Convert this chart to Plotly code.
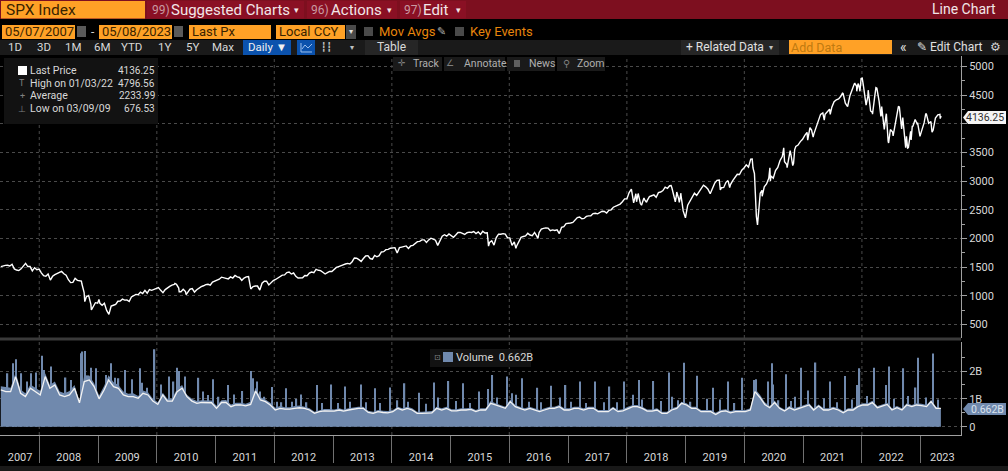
import pandas as pd
import plotly.graph_objects as go
from plotly.subplots import make_subplots

W = 1008
H = 471

# ---------SPX last price, one value every two weeks from 05/07/2007---------
price_values = [
    1510, 1525, 1530, 1533, 1520, 1550, 1470, 1450, 1440, 1470, 1520, 1565, 1510, 1510, 1435, 1490, 1455, 1468, 1400, 1350, 1340, 1380, 1275, 1340, 1370, 1385,
    1405, 1425, 1385, 1360, 1280, 1230, 1235, 1305, 1270, 1265, 1210, 1055, 985, 1005, 850, 816, 880, 870, 870, 835, 870, 745, 677, 820, 835, 850,
    905, 910, 942, 925, 927, 900, 980, 1005, 1025, 1020, 1065, 1040, 1095, 1045, 1110, 1095, 1115, 1127, 1145, 1095, 1055, 1108, 1140, 1165, 1187, 1197,
    1200, 1135, 1070, 1115, 1075, 1060, 1115, 1125, 1065, 1105, 1140, 1160, 1175, 1195, 1200, 1185, 1240, 1255, 1270, 1290, 1325, 1320, 1305, 1295, 1330, 1310,
    1355, 1330, 1320, 1270, 1310, 1330, 1335, 1120, 1160, 1170, 1170, 1100, 1220, 1255, 1255, 1190, 1235, 1265, 1285, 1315, 1345, 1360, 1365, 1405, 1415, 1380,
    1398, 1340, 1310, 1310, 1315, 1355, 1350, 1395, 1415, 1405, 1460, 1445, 1440, 1410, 1380, 1405, 1425, 1425, 1460, 1495, 1510, 1520, 1540, 1555, 1565, 1555,
    1595, 1660, 1655, 1630, 1600, 1650, 1695, 1700, 1650, 1640, 1705, 1680, 1700, 1765, 1770, 1805, 1810, 1830, 1830, 1840, 1745, 1840, 1850, 1860, 1870, 1825,
    1870, 1880, 1920, 1945, 1950, 1975, 1975, 1930, 1975, 2005, 1990, 1970, 1880, 1965, 2040, 2065, 2040, 2080, 2050, 2020, 2060, 2105, 2105, 2080, 2070, 2100,
    2110, 2105, 2120, 2085, 2115, 2070, 2125, 2095, 2100, 1930, 1960, 1885, 2015, 2075, 2075, 2085, 2075, 2010, 2010, 1880, 1940, 1865, 1950, 2020, 2035, 2045,
    2090, 2060, 2050, 2105, 2040, 2100, 2165, 2175, 2185, 2180, 2135, 2150, 2140, 2150, 2085, 2195, 2205, 2260, 2260, 2270, 2280, 2330, 2365, 2375, 2345, 2350,
    2385, 2395, 2395, 2435, 2440, 2430, 2460, 2475, 2470, 2445, 2490, 2500, 2545, 2565, 2590, 2600, 2640, 2690, 2690, 2800, 2860, 2620, 2780, 2780, 2610, 2640,
    2670, 2660, 2730, 2745, 2760, 2720, 2800, 2810, 2835, 2895, 2875, 2920, 2880, 2740, 2750, 2690, 2760, 2480, 2360, 2580, 2650, 2720, 2790, 2750, 2815, 2890,
    2930, 2900, 2860, 2780, 2890, 2965, 3015, 3020, 2885, 2890, 2980, 3000, 2940, 3010, 3075, 3120, 3115, 3190, 3230, 3285, 3245, 3385, 3230, 2750, 2237, 2660,
    2840, 2900, 2950, 3050, 3090, 3050, 3185, 3240, 3360, 3430, 3340, 3290, 3410, 3430, 3310, 3605, 3630, 3690, 3730, 3800, 3850, 3915, 3890, 3820, 3940, 4080,
    4165, 4190, 4165, 4205, 4255, 4290, 4385, 4420, 4435, 4480, 4530, 4360, 4300, 4485, 4615, 4700, 4655, 4670, 4790, 4670, 4410, 4480, 4300, 4200, 4460, 4620,
    4390, 4155, 4010, 4130, 3700, 3900, 3855, 3965, 4210, 4290, 3910, 3850, 3680, 3585, 3870, 3960, 4075, 3990, 3800, 3895, 4020, 4170, 4010, 4040, 3890, 4100,
    4150, 4165, 4136.25,
]
price_last_date = "2023-05-08"

# sharp turns between the two-week values
price_extra_dates = [
    "2008-09-19", "2008-10-10", "2008-11-20", "2009-01-06", "2010-04-23", "2010-05-20", "2010-07-02",
    "2011-08-08", "2011-10-03", "2015-08-25", "2016-02-11", "2016-06-27", "2016-11-04",
    "2018-03-02", "2018-03-12", "2018-04-02", "2018-04-17", "2018-05-03", "2018-10-03", "2018-10-29", "2018-11-07", "2018-11-23", "2018-12-03",
    "2019-07-26", "2019-08-05", "2019-09-19", "2019-10-02",
    "2020-02-19", "2020-03-04", "2020-03-12", "2020-03-13", "2020-03-16", "2020-04-01", "2020-04-09", "2020-04-21", "2020-06-08", "2020-06-11",
    "2020-09-02", "2020-09-23", "2020-10-12", "2020-10-28", "2020-11-09",
    "2021-01-29", "2021-02-12", "2021-03-04", "2021-05-12", "2021-06-18", "2021-09-02", "2021-10-04", "2021-11-18", "2021-11-30", "2021-12-08", "2021-12-20",
    "2022-01-03", "2022-01-27", "2022-02-09", "2022-02-24", "2022-03-08", "2022-03-29", "2022-04-29", "2022-05-04", "2022-05-20", "2022-06-02", "2022-06-16", "2022-06-27",
    "2022-07-14", "2022-08-16", "2022-09-12", "2022-09-30", "2022-10-05", "2022-10-12", "2022-11-03", "2022-11-10", "2022-12-13", "2022-12-28",
    "2023-02-02", "2023-03-13", "2023-04-18", "2023-05-03",
]
price_extra_values = [
    1255, 899, 752, 935, 1217, 1071, 1022,
    1119, 1099, 1867, 1829, 2000, 2085,
    2640, 2785, 2580, 2705, 2630, 2925, 2640, 2810, 2630, 2790,
    3025, 2845, 3005, 2888,
    3386, 3130, 2480, 2711, 2386, 2470, 2790, 2737, 3232, 3002,
    3580, 3237, 3534, 3271, 3550,
    3714, 3935, 3768, 4063, 4166, 4536, 4300, 4704, 4567, 4701, 4568,
    4796.56, 4326, 4587, 4225, 4170, 4631, 4131, 4300, 3901, 4176, 3666, 3900,
    3790, 4305, 4110, 3585, 3783, 3577, 3720, 3956, 4020, 3783,
    4180, 3855, 4155, 4090,
]

# ---------Volume in billions, one value per month from 05/07/2007---------
volume_values = [
    1.45, 1.42, 1.40, 1.95, 1.34, 1.20, 1.52, 1.40,
    1.28, 1.92, 1.50, 1.62, 1.26, 1.20, 1.28, 1.50, 0.92, 1.85, 1.84, 1.56,
    1.12, 1.46, 1.85, 1.60, 1.50, 1.26, 1.18, 1.20, 1.10, 1.30, 1.24, 1.00,
    0.88, 1.22, 1.00, 1.02, 1.36, 1.50, 1.15, 1.00, 0.92, 0.95, 0.95, 0.94,
    0.75, 0.95, 0.96, 0.80, 0.86, 0.86, 0.82, 0.90, 1.40, 1.06, 0.98, 0.86,
    0.68, 0.74, 0.70, 0.70, 0.74, 0.76, 0.72, 0.66, 0.54, 0.60, 0.64, 0.64,
    0.62, 0.66, 0.62, 0.66, 0.69, 0.72, 0.72, 0.57, 0.54, 0.60, 0.57, 0.56,
    0.60, 0.72, 0.66, 0.72, 0.66, 0.54, 0.54, 0.54, 0.56, 0.72, 0.66, 0.72,
    0.63, 0.63, 0.66, 0.66, 0.68, 0.60, 0.66, 0.66, 0.92, 0.84, 0.78, 0.72,
    0.98, 0.78, 0.72, 0.66, 0.72, 0.66, 0.60, 0.66, 0.72, 0.72, 0.78, 0.66,
    0.66, 0.72, 0.72, 0.66, 0.72, 0.72, 0.60, 0.60, 0.60, 0.72, 0.60, 0.63,
    0.72, 0.78, 0.78, 0.72, 0.62, 0.62, 0.66, 0.54, 0.54, 0.66, 0.72, 0.90,
    0.84, 0.72, 0.72, 0.60, 0.60, 0.60, 0.50, 0.60, 0.63, 0.56, 0.60, 0.60,
    0.60, 0.66, 1.36, 1.15, 0.88, 0.74, 0.94, 0.72, 0.62, 0.74, 0.66, 0.72,
    0.78, 0.84, 0.66, 0.80, 0.66, 0.66, 0.72, 0.66, 0.56, 0.66, 0.66, 0.78,
    0.84, 0.84, 0.93, 0.74, 0.80, 0.86, 0.66, 0.74, 0.66, 0.84, 0.78, 0.84,
    0.82, 0.78, 0.96, 0.72, 0.662,
]

# white moving average over the volume
volume_avg_values = [
    1.32, 1.26, 1.26, 1.80, 1.20, 1.08, 1.38, 1.26,
    1.14, 1.80, 1.38, 1.50, 1.14, 1.08, 1.14, 1.38, 0.86, 1.62, 1.68, 1.44,
    1.00, 1.32, 1.68, 1.44, 1.38, 1.14, 1.08, 1.08, 1.02, 1.20, 1.14, 0.92,
    0.80, 1.14, 0.92, 0.92, 1.26, 1.38, 1.08, 0.92, 0.84, 0.87, 0.87, 0.86,
    0.66, 0.87, 0.87, 0.72, 0.78, 0.78, 0.75, 0.80, 1.28, 0.96, 0.90, 0.78,
    0.60, 0.66, 0.63, 0.63, 0.66, 0.68, 0.66, 0.60, 0.48, 0.54, 0.57, 0.57,
    0.56, 0.60, 0.56, 0.60, 0.63, 0.66, 0.66, 0.51, 0.48, 0.54, 0.51, 0.50,
    0.54, 0.66, 0.60, 0.66, 0.60, 0.48, 0.48, 0.48, 0.50, 0.66, 0.60, 0.66,
    0.57, 0.57, 0.60, 0.60, 0.62, 0.54, 0.60, 0.60, 0.84, 0.78, 0.72, 0.66,
    0.90, 0.72, 0.66, 0.60, 0.66, 0.60, 0.54, 0.60, 0.66, 0.66, 0.72, 0.60,
    0.60, 0.66, 0.66, 0.60, 0.66, 0.66, 0.54, 0.54, 0.54, 0.66, 0.54, 0.57,
    0.66, 0.72, 0.72, 0.66, 0.56, 0.56, 0.60, 0.48, 0.48, 0.60, 0.66, 0.84,
    0.78, 0.66, 0.66, 0.54, 0.54, 0.54, 0.44, 0.54, 0.57, 0.50, 0.54, 0.54,
    0.54, 0.60, 1.26, 1.05, 0.80, 0.68, 0.87, 0.66, 0.56, 0.68, 0.60, 0.66,
    0.72, 0.78, 0.60, 0.74, 0.60, 0.60, 0.66, 0.60, 0.50, 0.60, 0.60, 0.72,
    0.78, 0.78, 0.87, 0.68, 0.74, 0.80, 0.60, 0.68, 0.60, 0.78, 0.72, 0.78,
    0.76, 0.72, 0.90, 0.66, 0.66,
]

# single heavy days that stick out of the volume area
spike_dates = [
    "2007-06-18", "2007-07-20", "2007-08-10", "2007-09-12", "2007-10-15", "2007-11-10", "2007-12-14",
    "2008-01-18", "2008-01-31", "2008-03-14", "2008-06-13", "2008-07-15", "2008-09-16", "2008-09-26", "2008-10-10", "2008-11-20", "2008-12-19",
    "2009-02-20", "2009-03-20", "2009-04-15", "2009-05-08", "2009-06-19", "2009-08-01", "2009-09-18", "2009-10-01", "2009-11-01", "2009-12-18",
    "2010-01-29", "2010-03-19", "2010-04-15", "2010-05-06", "2010-05-20", "2010-06-25", "2010-09-17", "2010-10-15", "2010-11-15", "2010-12-17",
    "2011-01-20", "2011-03-18", "2011-04-25", "2011-06-17", "2011-08-08", "2011-08-20", "2011-09-16", "2011-10-05", "2011-11-01", "2011-12-16",
    "2012-01-20", "2012-02-15", "2012-03-16", "2012-04-20", "2012-05-18", "2012-06-15", "2012-07-20", "2012-09-21", "2012-10-25", "2012-12-21",
    "2013-01-30", "2013-03-15", "2013-04-16", "2013-06-21", "2013-07-25", "2013-09-20", "2013-10-20", "2013-12-20",
    "2014-02-05", "2014-03-21", "2014-04-10", "2014-06-20", "2014-08-01", "2014-09-19", "2014-10-15", "2014-12-19",
    "2015-02-02", "2015-03-20", "2015-05-01", "2015-06-26", "2015-08-24", "2015-09-18", "2015-10-15", "2015-12-18",
    "2016-01-20", "2016-02-11", "2016-03-18", "2016-05-02", "2016-06-24", "2016-07-15", "2016-09-16", "2016-11-09", "2016-12-16",
    "2017-01-20", "2017-03-17", "2017-04-20", "2017-06-16", "2017-08-10", "2017-09-15", "2017-11-01", "2017-12-15",
    "2018-02-06", "2018-03-16", "2018-04-05", "2018-06-15", "2018-08-01", "2018-09-21", "2018-10-11", "2018-11-15", "2018-12-21",
    "2019-02-01", "2019-03-15", "2019-05-13", "2019-06-21", "2019-08-05", "2019-09-20", "2019-11-01", "2019-12-20",
    "2020-02-28", "2020-03-16", "2020-05-29", "2020-06-19", "2020-06-26", "2020-08-01", "2020-09-18", "2020-10-15", "2020-11-09", "2020-12-18",
    "2021-01-29", "2021-03-19", "2021-05-12", "2021-06-18", "2021-08-01", "2021-09-17", "2021-11-01", "2021-12-01", "2021-12-17",
    "2022-02-01", "2022-03-18", "2022-06-01", "2022-06-17", "2022-07-20", "2022-09-16", "2022-10-15", "2022-12-01", "2022-12-16",
    "2023-02-02", "2023-03-17", "2023-04-20",
]
spike_values = [
    1.92, 2.28, 2.42, 1.92, 1.62, 1.92, 1.95,
    2.55, 2.04, 2.16, 1.77, 1.68, 2.64, 2.70, 2.72, 2.12, 2.10,
    1.86, 2.28, 1.76, 1.74, 2.04, 1.70, 2.10, 1.58, 1.40, 2.78,
    1.52, 1.80, 1.62, 2.12, 2.00, 1.80, 1.76, 1.26, 1.14, 1.70,
    1.08, 1.50, 1.16, 1.28, 2.00, 1.74, 1.62, 1.26, 1.08, 1.43,
    0.90, 0.88, 1.38, 0.90, 1.00, 1.16, 0.88, 1.50, 0.85, 1.52,
    0.85, 1.44, 0.90, 1.52, 0.88, 1.38, 0.85, 1.41,
    0.95, 1.56, 0.90, 1.22, 0.82, 1.59, 1.05, 1.64,
    0.92, 1.56, 0.85, 1.26, 1.35, 1.86, 1.05, 1.80,
    1.20, 1.15, 1.74, 0.90, 1.40, 0.88, 1.47, 1.05, 1.50,
    0.90, 1.62, 0.85, 1.62, 0.88, 1.44, 0.88, 1.62,
    1.15, 1.68, 0.98, 1.64, 0.92, 1.95, 1.08, 0.95, 2.30,
    0.90, 1.83, 1.00, 1.40, 0.98, 1.62, 0.85, 1.76,
    1.68, 1.70, 1.62, 2.28, 1.52, 0.95, 1.88, 0.92, 1.08, 2.12,
    1.30, 2.31, 1.02, 1.62, 0.88, 1.82, 0.98, 1.50, 2.10,
    1.10, 2.12, 1.50, 2.16, 1.00, 2.10, 1.10, 1.41, 2.48,
    1.05, 2.63, 0.98,
]

# ---------Labels---------
years = list(range(2007, 2024))
year_label_dates = ["2007-09-04"] + [f"{y}-07-02" for y in range(2008, 2023)] + ["2023-05-16"]
grid_years = list(range(2008, 2024, 2))
price_ticks = [500, 1000, 1500, 2000, 2500, 3000, 3500, 4000, 4500, 5000]
# 4000 sits behind the last price flag
price_tick_text = ["500", "1000", "1500", "2000", "2500", "3000", "3500", "", "4500", "5000"]
price_minor = [750, 1250, 1750, 2250, 2750, 3250, 3750, 4250, 4750]
volume_ticks = [0, 1, 2]
volume_tick_text = ["0", "1B", "2B"]
legend_rows = [("Last Price", "4136.25"), ("High on 01/03/22", "4796.56"), ("Average", "2233.99"), ("Low on 03/09/09", "676.53")]

# ---------Colours---------
AMBER = "#ffa126"
RED = "#7d0f1f"
RED_BTN = "#8a1024"
PANEL = "#1a1a1a"
LIGHT = "#d8d8d8"
VOL_BLUE = "#7089ad"
GRID = "#4a4a4a"
AXIS = "#a0a0a0"
FONT = "Roboto"

price_dates = list(pd.date_range("2007-05-07", periods=len(price_values) - 1, freq="14D")) + [pd.Timestamp(price_last_date)]
price = pd.Series(price_values + price_extra_values,
                  index=price_dates + list(pd.to_datetime(price_extra_dates))).sort_index()
month_dates = pd.date_range("2007-05-07", periods=len(volume_values), freq=pd.DateOffset(months=1))

fig = make_subplots(rows=2, cols=1, shared_xaxes=True)

fig.add_trace(go.Scatter(x=price.index, y=price.values, mode="lines",
                         line=dict(color="#ffffff", width=1.4), hoverinfo="skip"),
              row=1, col=1)
fig.add_trace(go.Scatter(x=month_dates, y=volume_values, mode="lines", fill="tozeroy",
                         fillcolor=VOL_BLUE, line=dict(color=VOL_BLUE, width=0), hoverinfo="skip"),
              row=2, col=1)
fig.add_trace(go.Bar(x=pd.to_datetime(spike_dates), y=spike_values, width=8 * 24 * 3600 * 1000,
                     marker=dict(color=VOL_BLUE, line=dict(width=0)), hoverinfo="skip"),
              row=2, col=1)
fig.add_trace(go.Scatter(x=month_dates, y=volume_avg_values, mode="lines",
                         line=dict(color="#f2f2f2", width=1.3), hoverinfo="skip"),
              row=2, col=1)


def px_x(x):
    return x / W


def px_y(y):
    return 1 - y / H


def box(x0, y0, x1, y1, color, layer="above"):
    fig.add_shape(type="rect", xref="paper", yref="paper", x0=px_x(x0), x1=px_x(x1), y0=px_y(y0), y1=px_y(y1),
                  fillcolor=color, line_width=0, layer=layer)


def label(x, y, text, color=LIGHT, size=12, anchor="left", family=FONT):
    fig.add_annotation(x=px_x(x), y=px_y(y), xref="paper", yref="paper", text=text, showarrow=False,
                       xanchor=anchor, yanchor="middle", font=dict(family=family, size=size, color=color),
                       borderpad=0, borderwidth=0)


def outline(pts, fill=None, color=None, width=1):
    path = "M " + " L ".join(f"{px_x(a):.5f},{px_y(b):.5f}" for a, b in pts)
    if fill:
        path += " Z"
        fig.add_shape(type="path", xref="paper", yref="paper", path=path, fillcolor=fill, line_width=0, layer="above")
    else:
        fig.add_shape(type="path", xref="paper", yref="paper", path=path, line=dict(color=color, width=width), layer="above")


def flag(x0, y0, x1, y1, color):
    mid = (y0 + y1) / 2
    outline([(x0 + 5, y0), (x1, y0), (x1, y1), (x0 + 5, y1), (x0, mid)], fill=color)


# ---------Dotted year grid through both panels---------
for y in grid_years:
    fig.add_shape(type="line", xref="x", yref="y domain", x0=f"{y}-01-01", x1=f"{y}-01-01", y0=0, y1=1,
                  line=dict(color=GRID, width=1, dash="dot"), layer="below")
    fig.add_shape(type="line", xref="x2", yref="y2 domain", x0=f"{y}-01-01", x1=f"{y}-01-01", y0=0, y1=1,
                  line=dict(color=GRID, width=1, dash="dot"), layer="below")

# ---------Title bar---------
box(0, 0, W, 19, RED)
box(1, 1, 145, 18.5, AMBER)
label(6, 10, "SPX Index", "#3a2400", 15.5)
for x0, x1 in [(147, 304), (307, 397), (400, 466)]:
    box(x0, 1, x1, 18.5, RED_BTN)
label(152, 10, "99)", "#c99aa2", 12)
label(171, 10, "Suggested Charts", "#f2e6e8", 15)
label(296, 10.5, "▾", "#f2e6e8", 9, "center", "DejaVu Sans")
label(311, 10, "96)", "#c99aa2", 12)
label(331, 10, "Actions", "#f2e6e8", 15)
label(389, 10.5, "▾", "#f2e6e8", 9, "center", "DejaVu Sans")
label(404, 10, "97)", "#c99aa2", 12)
label(423, 10, "Edit", "#f2e6e8", 15)
label(458, 10.5, "▾", "#f2e6e8", 9, "center", "DejaVu Sans")
label(996, 9.5, "Line Chart", "#f2e6e8", 14, "right")

# ---------Date row---------
box(2, 25, 75, 39, AMBER)
label(5, 32, "05/07/2007", "#3a2400", 13)
box(77, 26, 86, 37, "#5a5a5a")
label(93, 32, "-", "#d0d0d0", 12, "center")
box(99, 25, 172, 39, AMBER)
label(102, 32, "05/08/2023", "#3a2400", 13)
box(174, 26, 183, 37, "#5a5a5a")
box(189, 25, 271, 39, AMBER)
label(192, 32, "Last Px", "#3a2400", 13)
box(276, 25, 345, 39, AMBER)
label(279, 32, "Local CCY", "#3a2400", 13)
box(346, 25, 356, 39, "#4a4a4a")
label(351, 32, "▾", "#e0e0e0", 8, "center", "DejaVu Sans")
box(364, 27, 373, 36, "#4a4a4a")
label(379, 32, "Mov Avgs", "#e8860c", 13)
label(441, 32, "✎", "#a8a8a8", 11, "center", "DejaVu Sans")
box(455, 27, 464, 36, "#4a4a4a")
label(470, 32, "Key Events", "#e8860c", 13)

# ---------Range buttons row---------
box(0, 40, W, 55, PANEL)
for text, x in [("1D", 15), ("3D", 44), ("1M", 73), ("6M", 102), ("YTD", 131), ("1Y", 164), ("5Y", 192), ("Max", 223)]:
    label(x, 47.5, text, LIGHT, 11.5, "center")
box(243, 40, 291, 55, "#0b52ad")
label(267, 47.5, "Daily ▼", "#f0f0f0", 11.5, "center")
box(297, 40, 315, 55, "#0b52ad")
outline([(301, 43), (301, 52), (312, 52)], color="#9cc0ee")
outline([(302, 49), (305, 45), (308, 48), (312, 44)], color="#9cc0ee")
label(326, 47.5, "┇┇", "#c0c0c0", 9, "center", "DejaVu Sans")
label(352, 47.5, "▾", "#c0c0c0", 8, "center", "DejaVu Sans")
box(365, 40, 418, 55, "#262626")
label(391, 47.5, "Table", LIGHT, 12, "center")
box(681, 40, 779, 55, "#262626")
label(686, 47.5, "+ Related Data", "#e0e0e0", 12)
label(771, 47.5, "▾", "#c0c0c0", 8, "center", "DejaVu Sans")
box(789, 40, 892, 54, AMBER)
label(791, 47.5, "Add Data", "#c07a10", 12.5)
label(903, 47.5, "«", "#e0e0e0", 14, "center")
label(917, 47.5, "✎ Edit Chart", "#e0e0e0", 12)
label(995, 47.5, "⚙", "#d0d0d0", 12, "center", "DejaVu Sans")

# ---------Chart tools---------
for x0, x1 in [(393, 442), (444, 505), (507, 555), (557, 605)]:
    box(x0, 57, x1, 71, PANEL)
label(402, 63.5, "✛", "#808080", 9, "center", "DejaVu Sans")
label(413, 63.5, "Track", "#b0b0b0", 10.5)
label(450, 63.5, "∠", "#808080", 9, "center", "DejaVu Sans")
label(464, 63.5, "Annotate", "#b0b0b0", 10.5)
box(514, 60, 520, 67, "#606060")
label(529, 63.5, "News", "#b0b0b0", 10.5)
label(566, 63.5, "⚲", "#808080", 10, "center", "DejaVu Sans")
label(577, 63.5, "Zoom", "#b0b0b0", 10.5)

# ---------Legend box---------
box(4, 58, 158, 124, "#121212")
box(18, 66, 27, 75, "#ffffff")
for row, y in zip(legend_rows, [71, 83.5, 96, 108.5]):
    label(30, y, row[0], LIGHT, 10.5)
    label(155, y, row[1], LIGHT, 10, "right")
label(22, 83.5, "T", "#808080", 9, "center")
label(22, 96, "+", "#808080", 9, "center")
label(22, 108.5, "⊥", "#808080", 9, "center", "DejaVu Sans")

# ---------Panel divider and bottom strip---------
box(0, 337.5, 961, 340.5, "#3a3a3a")
box(0, 466, W, H, "#191919")

# ---------Volume legend---------
box(430, 349, 531, 367, "#121212")
box(443, 352, 453, 362, VOL_BLUE)
label(437, 357, "⊡", "#808080", 8, "center", "DejaVu Sans")
label(456, 357, "Volume  0.662B", LIGHT, 11)

# ---------Last value flags---------
flag(963, 111, 1006, 124, "#f4f4f4")
label(1004, 117.5, "4136.25", "#303030", 10.5, "right")
flag(963, 403, 1006, 415, VOL_BLUE)
label(1004, 409, "0.662B", "#dbe3ee", 10.5, "right")

# ---------Axes---------
fig.update_xaxes(type="date", range=["2007-05-02", "2023-09-09"], domain=[0, 961 / W],
                 showgrid=False, zeroline=False, fixedrange=True)
fig.update_xaxes(showticklabels=False, ticks="", showline=False, row=1, col=1)
fig.update_xaxes(tickvals=year_label_dates, ticktext=[str(y) for y in years], tickangle=0,
                 ticks="outside", ticklen=12, tickcolor="rgba(0,0,0,0)", tickwidth=1,
                 tickfont=dict(family=FONT, size=11, color=LIGHT),
                 showline=True, linecolor=AXIS, linewidth=1,
                 minor=dict(tickvals=[f"{y}-01-01" for y in range(2008, 2024)], ticks="outside", ticklen=27,
                            tickcolor="#707070", tickwidth=1, showgrid=False),
                 row=2, col=1)
fig.update_yaxes(side="right", zeroline=False, fixedrange=True, showline=True, linecolor=AXIS, linewidth=1,
                 griddash="dot", gridcolor=GRID, gridwidth=1, showgrid=True,
                 ticks="outside", tickcolor=AXIS, tickwidth=1,
                 tickfont=dict(family=FONT, size=11, color=LIGHT))
fig.update_yaxes(domain=[px_y(338), px_y(56)], range=[264, 5183], tickvals=price_ticks, ticktext=price_tick_text, ticklen=5,
                 minor=dict(tickvals=price_minor, ticks="outside", ticklen=3, tickcolor=AXIS, showgrid=False),
                 row=1, col=1)
fig.update_yaxes(domain=[px_y(435), px_y(341.5)], range=[-0.298, 3.06], tickvals=volume_ticks, ticktext=volume_tick_text,
                 ticklen=5, minor=dict(tickvals=[0.5, 1.5, 2.5], ticks="outside", ticklen=3, tickcolor=AXIS, showgrid=False),
                 row=2, col=1)

fig.update_layout(width=W, height=H, margin=dict(l=0, r=0, t=0, b=0), autosize=False,
                  paper_bgcolor="#000000", plot_bgcolor="#000000", showlegend=False,
                  barmode="overlay", font=dict(family=FONT, color=LIGHT))

fig.write_html("out.html", config=dict(displayModeBar=False),
               post_script="document.body.style.margin='0';document.body.style.background='#000';document.body.style.overflow='hidden';")
